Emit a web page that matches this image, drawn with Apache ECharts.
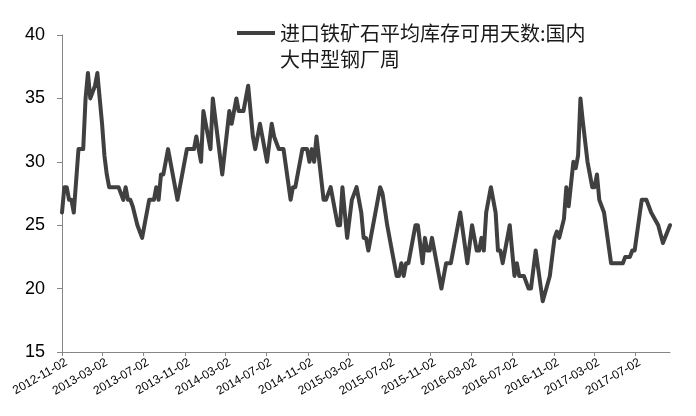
<!DOCTYPE html>
<html>
<head>
<meta charset="utf-8">
<script src="https://cdn.jsdelivr.net/npm/echarts@6/dist/echarts.min.js"></script>
<style>
html,body{margin:0;padding:0;background:#fff;}
#chart{width:696px;height:416px;}
</style>
</head>
<body>
<div id="chart"></div>
<script>
var seriesName = '进口铁矿石平均库存可用天数:国内大中型钢厂周';
var legendLines = ['进口铁矿石平均库存可用天数:国内', '大中型钢厂周'];
var startDate = '2012-11-02';
var endDate = '2017-10-13';
var tickDates = ['2012-11-02','2013-03-02','2013-07-02','2013-11-02','2014-03-02','2014-07-02','2014-11-02','2015-03-02','2015-07-02','2015-11-02','2016-03-02','2016-07-02','2016-11-02','2017-03-02','2017-07-02'];
var yTicks = [15, 20, 25, 30, 35, 40];

var dates = [
'2012-11-02','2012-11-09','2012-11-16','2012-11-23','2012-11-30','2012-12-07','2012-12-21',
'2013-01-04','2013-01-11','2013-01-18','2013-01-25','2013-02-08','2013-02-15','2013-02-22','2013-03-01','2013-03-08','2013-03-15','2013-03-22',
'2013-04-19','2013-05-03','2013-05-10','2013-05-17','2013-05-24','2013-05-31','2013-06-14','2013-06-28','2013-07-05','2013-07-19',
'2013-08-02','2013-08-09','2013-08-16','2013-08-23','2013-08-30','2013-09-13','2013-10-11','2013-11-08','2013-11-29','2013-12-06','2013-12-20','2013-12-27',
'2014-01-17','2014-01-24','2014-02-21','2014-03-14','2014-03-21','2014-04-04','2014-04-11','2014-04-25','2014-05-09','2014-05-23','2014-05-30',
'2014-06-13','2014-06-20','2014-07-04','2014-07-18','2014-07-25','2014-08-08','2014-08-22','2014-09-12','2014-09-19','2014-09-26',
'2014-10-17','2014-10-31','2014-11-07','2014-11-14','2014-11-21','2014-11-28','2014-12-19','2014-12-26',
'2015-01-09','2015-01-30','2015-02-06','2015-02-13','2015-02-27','2015-03-13','2015-03-27','2015-04-10','2015-04-17','2015-04-24',
'2015-05-01','2015-05-08','2015-05-22','2015-06-05','2015-06-12','2015-06-26','2015-07-10','2015-07-24','2015-07-31','2015-08-07',
'2015-08-14','2015-08-21','2015-08-28','2015-09-18','2015-09-25','2015-10-09','2015-10-16','2015-10-23','2015-10-30','2015-11-06',
'2015-11-20','2015-12-04','2015-12-18',
'2016-01-01','2016-01-15','2016-01-29','2016-02-19','2016-03-04','2016-03-18','2016-03-25','2016-04-01','2016-04-08','2016-04-15',
'2016-04-29','2016-05-13','2016-05-20','2016-05-27','2016-06-03','2016-06-24','2016-07-08','2016-07-15','2016-07-22','2016-08-05',
'2016-08-19','2016-08-26','2016-09-09','2016-09-30','2016-10-21','2016-11-04','2016-11-11','2016-11-18','2016-12-02','2016-12-09',
'2016-12-16','2016-12-30',
'2017-01-06','2017-01-13','2017-01-20','2017-01-27','2017-02-10','2017-02-17','2017-02-24','2017-03-03','2017-03-10','2017-03-17',
'2017-03-31','2017-04-21','2017-05-26','2017-06-02','2017-06-16','2017-06-23','2017-06-30','2017-07-21','2017-08-04','2017-08-18',
'2017-09-08','2017-09-22','2017-10-13'
];
var values = [
26,28,28,27,27,26,31,
31,35,37,35,36,37,35,33,30.5,29,28,
28,27,28,27,27,26.5,25,24,25,27,
27,28,27,29,29,31,27,31,31,32,30,34,
31,35,29,34,33,35,34,34,36,32,31,
33,32,30,33,32,31,31,27,28,28,
31,31,30,31,30,32,27,27,
28,25,25,28,24,27,28,26,24,24,
23,24,26,28,27.5,25,23,21,21,22,
21,22,22,25,25,22,24,23,23,24,
22,20,22,
22,24,26,22,25,23,23,24,23,26,
28,26,23,23,22,25,21,22,21,21,
20,20,23,19,21,24,24.5,24,25.5,28,
26.5,30,
29.5,30.5,35,33.2,30,29,28,28,29,27,
26,22,22,22.5,22.5,23,23,27,27,26,
25,23.6,25
];

function dayOffset(d) { return (Date.parse(d) - Date.parse(startDate)) / 86400000; }
function offsetToDate(v) { return new Date(Date.parse(startDate) + v * 86400000).toISOString().slice(0, 10); }

var data = dates.map(function (d, i) { return [dayOffset(d), values[i]]; });
var tickOffsets = tickDates.map(dayOffset);

var chart = echarts.init(document.getElementById('chart'), null, {renderer: 'canvas'});
chart.setOption({
  animation: false,
  backgroundColor: '#ffffff',
  grid: {left: 62, right: 26, top: 35, bottom: 64, containLabel: false},
  legend: {
    show: true,
    left: 237,
    top: -6,
    padding: 0,
    icon: 'rect',
    itemWidth: 38,
    itemHeight: 4,
    itemGap: 5,
    formatter: function () { return '\n' + legendLines.join('\n'); },
    textStyle: {
      fontFamily: '"Noto Sans CJK SC", sans-serif',
      fontSize: 20,
      color: '#1a1a1a',
      lineHeight: 26
    },
    data: [{name: seriesName, itemStyle: {color: '#404040'}}]
  },
  xAxis: {
    type: 'value',
    min: 0,
    max: dayOffset(endDate),
    splitLine: {show: false},
    axisLine: {show: true, lineStyle: {color: '#868686', width: 1}},
    axisTick: {show: true, customValues: tickOffsets, length: 4, inside: false, lineStyle: {color: '#868686'}},
    axisLabel: {
      customValues: tickOffsets,
      rotate: 30,
      margin: 12,
      padding: [0, -5, 0, 0],
      fontFamily: '"Liberation Sans", Arial, sans-serif',
      fontSize: 12,
      color: '#000',
      formatter: function (v) { return offsetToDate(v); }
    }
  },
  yAxis: {
    type: 'value',
    min: yTicks[0],
    max: yTicks[yTicks.length - 1],
    interval: 5,
    splitLine: {show: false},
    axisLine: {show: true, lineStyle: {color: '#868686', width: 1}},
    axisTick: {show: true, length: 5, lineStyle: {color: '#868686'}},
    axisLabel: {
      margin: 17,
      fontFamily: '"Liberation Sans", Arial, sans-serif',
      fontSize: 18,
      color: '#000'
    }
  },
  series: [{
    name: seriesName,
    type: 'line',
    data: data,
    showSymbol: false,
    symbol: 'none',
    smooth: false,
    lineStyle: {color: '#404040', width: 4, join: 'round', cap: 'round'},
    itemStyle: {color: '#404040'}
  }]
});
</script>
</body>
</html>
